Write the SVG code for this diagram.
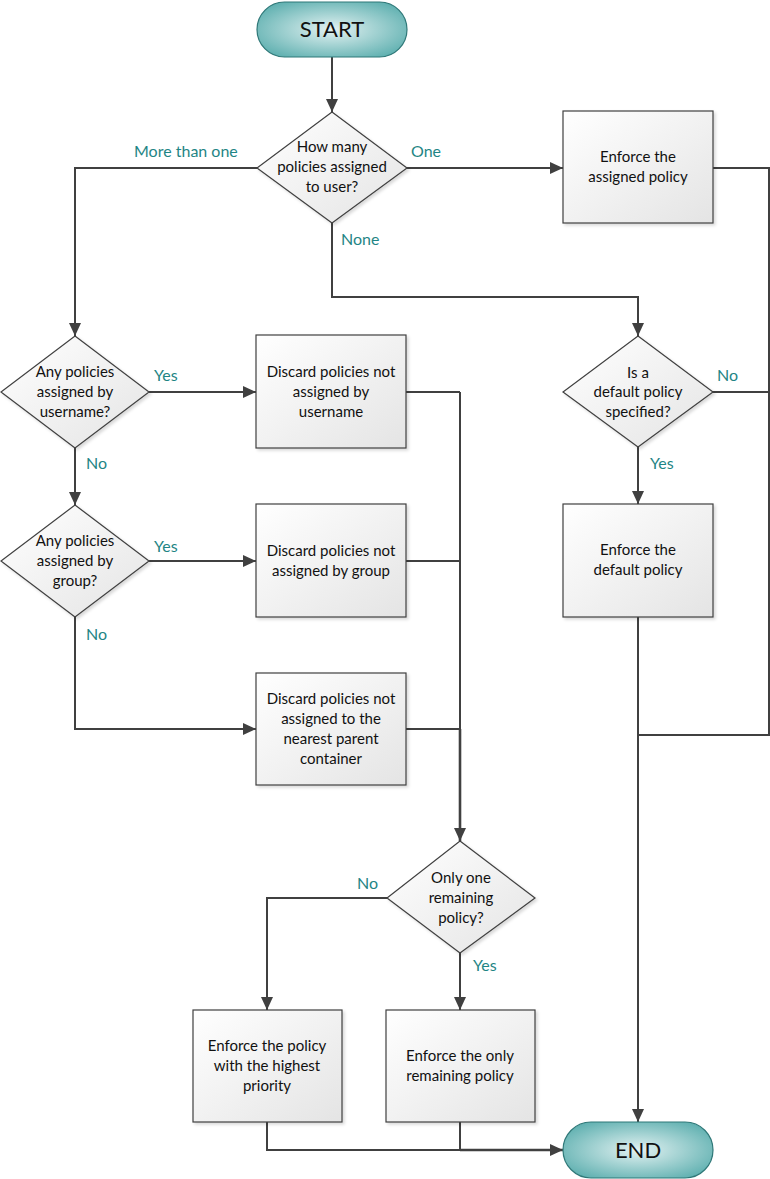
<svg xmlns="http://www.w3.org/2000/svg" width="770" height="1179" viewBox="0 0 770 1179">
<defs>
<linearGradient id="gBox" x1="0" y1="0" x2="1" y2="1">
<stop offset="0" stop-color="#ffffff"/>
<stop offset="1" stop-color="#e4e4e4"/>
</linearGradient>
<radialGradient id="gTerm" cx="0.5" cy="0.5" r="0.6">
<stop offset="0" stop-color="#e3f2f2"/>
<stop offset="1" stop-color="#5fb0b0"/>
</radialGradient>
<marker id="arr" viewBox="0 0 13 12" refX="13" refY="6" markerWidth="13" markerHeight="12" markerUnits="userSpaceOnUse" orient="auto">
<path d="M0,0 L13,6 L0,12 Z" fill="#404040"/>
</marker>
<filter id="sh" x="-10%" y="-10%" width="130%" height="130%">
<feDropShadow dx="2" dy="2" stdDeviation="1.5" flood-color="#000" flood-opacity="0.15"/>
</filter>
</defs>
<style>
.box{fill:url(#gBox);stroke:#404040;stroke-width:1.2;filter:url(#sh)}
.term{fill:url(#gTerm);stroke:#2f7878;stroke-width:1.2}
.t{font-family:Lato,"Open Sans","Liberation Sans",sans-serif;font-size:15px;fill:#111;text-anchor:middle}
.tt{font-family:Lato,"Open Sans","Liberation Sans",sans-serif;font-size:22px;fill:#111;text-anchor:middle}
.lb{font-family:Lato,"Open Sans","Liberation Sans",sans-serif;font-size:16px;fill:#1f8585}
.c{fill:none;stroke:#404040;stroke-width:2}
.ca{fill:none;stroke:#404040;stroke-width:2;marker-end:url(#arr)}
.thick{stroke-width:2.6}
</style>
<rect width="770" height="1179" fill="#ffffff"/>

<g id="connectors">
<path class="ca" d="M332,57 V112"/>
<path class="ca" d="M257,168 H75 V336"/>
<path class="ca" d="M407,168 H563"/>
<path class="c" d="M713,168 H769 V735 H638"/>
<path class="ca" d="M332,223 V297 H638 V336"/>
<path class="c" d="M713,392 H769"/>
<path class="ca" d="M638,447 V504"/>
<path class="ca" d="M638,617 V1122"/>
<path class="ca" d="M149,392 H256"/>
<path class="ca" d="M75,448 V505"/>
<path class="ca" d="M149,561 H256"/>
<path class="ca" d="M75,617 V729 H256"/>
<path class="c" d="M406,392 H460"/>
<path class="c" d="M406,561 H460"/>
<path class="c" d="M406,729 H460"/>
<path class="c" d="M460,392 V730"/>
<path class="ca thick" d="M460,729 V841"/>
<path class="ca" d="M387,898 H267 V1010"/>
<path class="ca" d="M460,953 V1010"/>
<path class="c" d="M267,1122 V1150 H460"/>
<path class="ca thick" d="M460,1150 H563"/>
<path class="c" d="M460,1122 V1150"/>
<text class="lb" x="134" y="157">More than one</text>
<text class="lb" x="411" y="157">One</text>
<text class="lb" x="341" y="245">None</text>
<text class="lb" x="154" y="381">Yes</text>
<text class="lb" x="86" y="469">No</text>
<text class="lb" x="154" y="552">Yes</text>
<text class="lb" x="86" y="640">No</text>
<text class="lb" x="717" y="381">No</text>
<text class="lb" x="650" y="469">Yes</text>
<text class="lb" x="357" y="889">No</text>
<text class="lb" x="473" y="971">Yes</text>
</g>

<g id="start">
<rect class="term" x="257" y="2" width="150" height="55" rx="27.5" ry="27.5"/>
<text class="tt" x="332" y="37">START</text>
</g>

<g id="q-how-many">
<polygon class="box" points="332,112 407,168 332,223 257,168"/>
<text class="t" x="332" y="152">How many</text>
<text class="t" x="332" y="172">policies assigned</text>
<text class="t" x="332" y="192">to user?</text>
</g>

<g id="enforce-assigned">
<rect class="box" x="563" y="111" width="150" height="112"/>
<text class="t" x="638" y="162">Enforce the</text>
<text class="t" x="638" y="182">assigned policy</text>
</g>

<g id="q-default">
<polygon class="box" points="638,336 713,392 638,447 563,392"/>
<text class="t" x="638" y="378">Is a</text>
<text class="t" x="638" y="397">default policy</text>
<text class="t" x="638" y="417">specified?</text>
</g>

<g id="enforce-default">
<rect class="box" x="563" y="504" width="150" height="113"/>
<text class="t" x="638" y="555">Enforce the</text>
<text class="t" x="638" y="575">default policy</text>
</g>

<g id="q-username">
<polygon class="box" points="75,336 149,392 75,448 1,392"/>
<text class="t" x="75" y="377">Any policies</text>
<text class="t" x="75" y="397">assigned by</text>
<text class="t" x="75" y="417">username?</text>
</g>

<g id="discard-username">
<rect class="box" x="256" y="335" width="150" height="113"/>
<text class="t" x="331" y="377">Discard policies not</text>
<text class="t" x="331" y="397">assigned by</text>
<text class="t" x="331" y="417">username</text>
</g>

<g id="q-group">
<polygon class="box" points="75,505 149,561 75,617 1,561"/>
<text class="t" x="75" y="546">Any policies</text>
<text class="t" x="75" y="566">assigned by</text>
<text class="t" x="75" y="586">group?</text>
</g>

<g id="discard-group">
<rect class="box" x="256" y="504" width="150" height="113"/>
<text class="t" x="331" y="556">Discard policies not</text>
<text class="t" x="331" y="576">assigned by group</text>
</g>

<g id="discard-parent">
<rect class="box" x="256" y="673" width="150" height="112"/>
<text class="t" x="331" y="704">Discard policies not</text>
<text class="t" x="331" y="724">assigned to the</text>
<text class="t" x="331" y="744">nearest parent</text>
<text class="t" x="331" y="764">container</text>
</g>

<g id="q-only-one">
<polygon class="box" points="460,841 535,898 460,953 387,898"/>
<text class="t" x="461" y="883">Only one</text>
<text class="t" x="461" y="903">remaining</text>
<text class="t" x="461" y="923">policy?</text>
</g>

<g id="enforce-highest">
<rect class="box" x="193" y="1010" width="149" height="112"/>
<text class="t" x="267" y="1051">Enforce the policy</text>
<text class="t" x="267" y="1071">with the highest</text>
<text class="t" x="267" y="1091">priority</text>
</g>

<g id="enforce-only">
<rect class="box" x="386" y="1010" width="149" height="112"/>
<text class="t" x="460" y="1061">Enforce the only</text>
<text class="t" x="460" y="1081">remaining policy</text>
</g>

<g id="end">
<rect class="term" x="563" y="1122" width="150" height="56" rx="28" ry="28"/>
<text class="tt" x="638" y="1158">END</text>
</g>
</svg>
